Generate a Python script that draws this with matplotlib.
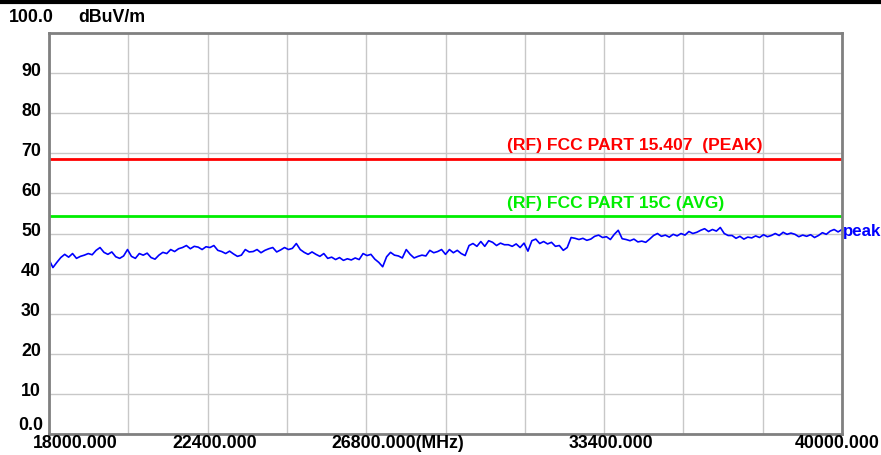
import matplotlib
matplotlib.use('Agg')
import matplotlib.pyplot as plt
import matplotlib.transforms as mtransforms
import numpy as np

plt.rcParams['font.family'] = ['Liberation Sans', 'DejaVu Sans']
plt.rcParams['font.weight'] = 'bold'
plt.rcParams['font.size'] = 12.8

# --- data ------------------------------------------------------------------
f_start = 18000.0
f_stop = 40000.0

peak_level = [
    43.5, 41.5, 42.8, 44.0, 44.8, 44.1, 45.0, 43.8, 44.3, 44.6, 45.0, 44.7,
    45.8, 46.5, 45.3, 44.8, 45.4, 44.2, 43.8, 44.4, 46.0, 44.3, 43.8, 45.0,
    44.6, 45.1, 44.0, 43.6, 44.6, 45.3, 45.0, 46.0, 45.5, 46.2, 46.5, 47.0,
    46.2, 46.8, 46.6, 46.0, 46.7, 46.5, 47.0, 45.8, 45.5, 45.0, 45.6, 44.9,
    44.3, 44.6, 46.0, 45.4, 45.5, 46.0, 45.2, 45.8, 46.2, 46.5, 45.4, 45.9,
    46.5, 46.0, 46.3, 47.5, 46.0, 45.3, 44.8, 45.4, 44.8, 44.3, 45.0, 43.8,
    44.1, 43.5, 44.0, 43.3, 43.7, 43.4, 43.9, 43.5, 45.0, 44.5, 44.8, 43.6,
    42.8, 41.7, 44.2, 45.3, 44.6, 44.4, 43.9, 46.0, 44.8, 43.9, 44.3, 44.6,
    44.4, 45.8, 45.2, 45.5, 46.0, 44.8, 46.0, 45.2, 45.8, 45.0, 44.5, 47.0,
    47.5, 46.8, 48.0, 46.8, 48.2, 47.8, 47.0, 47.6, 47.2, 47.2, 46.8, 47.4,
    46.5, 47.6, 45.6, 48.2, 48.6, 47.5, 48.0, 47.4, 47.8, 46.8, 47.0, 45.8,
    46.5, 49.0, 48.8, 48.5, 48.8, 48.3, 48.6, 49.3, 49.6, 49.0, 49.2, 48.5,
    49.8, 50.8, 48.7, 48.5, 48.2, 48.6, 47.9, 48.1, 47.8, 48.6, 49.5, 50.0,
    49.3, 49.6, 49.1, 49.8, 49.4, 50.0, 49.6, 50.5, 50.0, 50.3, 50.8, 51.2,
    50.5, 51.0, 50.6, 51.5, 50.0, 49.5, 49.5, 48.8, 49.3, 48.6, 49.1, 48.9,
    49.4, 49.0, 49.7, 49.2, 49.5, 50.0, 49.5, 50.3, 49.8, 50.1, 49.8, 49.2,
    49.6, 49.3, 49.7, 49.0, 49.5, 50.2, 49.8, 50.6, 51.0, 50.4, 51.0,
]

limit_names = ['(RF) FCC PART 15.407  (PEAK)', '(RF) FCC PART 15C (AVG)']
limit_values = [68.7, 54.3]
limit_colors = ['#ff0000', '#00ee00']

x_ticks = [18000, 22400, 26800, 33400, 40000]
x_labels = ['18000.000', '22400.000', '26800.000(MHz)', '33400.000', '40000.000']
y_ticks = [100, 90, 80, 70, 60, 50, 40, 30, 20, 10, 0]
y_labels = ['100.0', '90', '80', '70', '60', '50', '40', '30', '20', '10', '0.0']

freq = np.linspace(f_start, f_stop, len(peak_level))

# --- figure -----------------------------------------------------------------
W, H = 881, 455
fig = plt.figure(figsize=(W / 100, H / 100), dpi=100)
ax = fig.add_axes([49 / W, 21 / H, 793 / W, 401 / H])

ax.set_xlim(f_start, f_stop)
ax.set_ylim(0, 100)
ax.set_xticks(np.linspace(f_start, f_stop, 11))
ax.set_yticks(np.arange(0, 101, 10))
ax.grid(True, color='#c8c8c8', lw=1)
ax.tick_params(length=0, labelbottom=False, labelleft=False)
for sp in ax.spines.values():
    sp.set_color('#808080')
    sp.set_linewidth(2)

for name, val, col in zip(limit_names, limit_values, limit_colors):
    ax.axhline(val, color=col, lw=2)
    ax.text(0.5776, val + 3.3, name, color=col, transform=ax.get_yaxis_transform(),
            ha='left', va='center', fontsize=12.6)

ax.plot(freq, peak_level, color='#0000ff', lw=1.2)
ax.text(1.0015, 50.6, 'peak', color='#0000ff', transform=ax.get_yaxis_transform(),
        ha='left', va='center', clip_on=False, fontsize=12.2)

# y labels, centred left of the frame
for v, lab in zip(y_ticks, y_labels):
    dy = 2
    if lab == '100.0':
        dy = 16
    elif lab == '0.0':
        dy = 8
    tr = mtransforms.offset_copy(ax.get_yaxis_transform(), fig=fig, x=-18, y=dy, units='dots')
    ax.text(0, v, lab, transform=tr, ha='center', va='center', clip_on=False)

ax.text(0, 100, 'dBuV/m', ha='left', va='center', clip_on=False,
        transform=mtransforms.offset_copy(ax.get_yaxis_transform(), fig=fig, x=29, y=16, units='dots'))

# x labels
for v, lab in zip(x_ticks, x_labels):
    dx = -35
    if v == x_ticks[0]:
        dx = -16
    elif v == x_ticks[-1]:
        dx = -47
    tr = mtransforms.offset_copy(ax.get_xaxis_transform(), fig=fig, x=dx, y=-9, units='dots')
    ax.text(v, 0, lab, transform=tr, ha='left', va='center', clip_on=False)

# window border along the top
fig.add_artist(plt.Line2D([0, 1], [1 - 1.5 / H, 1 - 1.5 / H], color='black', lw=3))

fig.savefig('out.png', dpi=100)
